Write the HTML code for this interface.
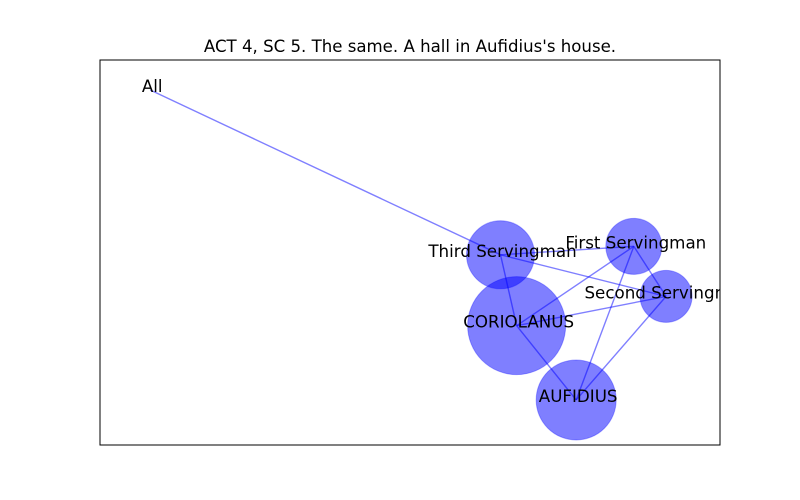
<!DOCTYPE html>
<html><head><meta charset="utf-8"><style>
html,body{margin:0;padding:0;background:#fff;width:800px;height:500px;overflow:hidden}
svg text{font-family:"DejaVu Sans","Liberation Sans",sans-serif}
</style></head><body>
<svg id="chart" width="800" height="500">
<defs><clipPath id="axclip"><rect x="100" y="60" width="620" height="385"/></clipPath></defs>
<rect x="0" y="0" width="800" height="500" fill="#fff"/>
<text x="410" y="52" text-anchor="middle" font-size="16.6">ACT 4, SC 5. The same. A hall in Aufidius's house.</text>
<g id="edges" clip-path="url(#axclip)"></g>
<g id="nodes" clip-path="url(#axclip)"></g>
<g id="labels" clip-path="url(#axclip)"></g>
<rect x="100" y="60" width="620" height="385" fill="none" stroke="#000" stroke-width="1"/>
</svg>
<script>
const nodeNames = ["All","Third Servingman","First Servingman","Second Servingman","CORIOLANUS","AUFIDIUS"];
const nodeX = [0.081, 0.646, 0.861, 0.913, 0.672, 0.768];
const nodeY = [0.922, 0.494, 0.516, 0.386, 0.31, 0.117];
const nodeSize = [0, 34, 28, 26, 49, 40];
const edgeFrom = ["All","Third Servingman","Third Servingman","Third Servingman","CORIOLANUS","CORIOLANUS","CORIOLANUS","First Servingman","First Servingman","Second Servingman"];
const edgeTo = ["Third Servingman","Second Servingman","First Servingman","CORIOLANUS","AUFIDIUS","First Servingman","Second Servingman","Second Servingman","AUFIDIUS","AUFIDIUS"];
const NS="http://www.w3.org/2000/svg";
function sx(v){return 100+v*620;}
function sy(v){return 445-v*385;}
function idx(n){return nodeNames.indexOf(n);}
const eg=document.getElementById('edges'),ng=document.getElementById('nodes'),lg=document.getElementById('labels');
for(let i=0;i<edgeFrom.length;i++){
  const a=idx(edgeFrom[i]),b=idx(edgeTo[i]);
  const l=document.createElementNS(NS,'line');
  l.setAttribute('x1',sx(nodeX[a]));l.setAttribute('y1',sy(nodeY[a]));
  l.setAttribute('x2',sx(nodeX[b]));l.setAttribute('y2',sy(nodeY[b]));
  l.setAttribute('stroke','rgba(0,0,255,0.5)');l.setAttribute('stroke-width','1.4');
  
  
  eg.appendChild(l);
}
for(let i=0;i<nodeNames.length;i++){
  const c=document.createElementNS(NS,'circle');
  c.setAttribute('cx',sx(nodeX[i]));c.setAttribute('cy',sy(nodeY[i]));
  c.setAttribute('r',nodeSize[i]);
  c.setAttribute('fill','rgba(0,0,255,0.5)');c.setAttribute('stroke','rgba(0,0,255,0.3)');
  
  
  ng.appendChild(c);
  const t=document.createElementNS(NS,'text');
  t.setAttribute('x',sx(nodeX[i])+2);t.setAttribute('y',sy(nodeY[i])+2);
  t.setAttribute('text-anchor','middle');t.setAttribute('font-size','16.7');
  t.textContent=nodeNames[i];
  
  
  lg.appendChild(t);
}
</script>
</body></html>
